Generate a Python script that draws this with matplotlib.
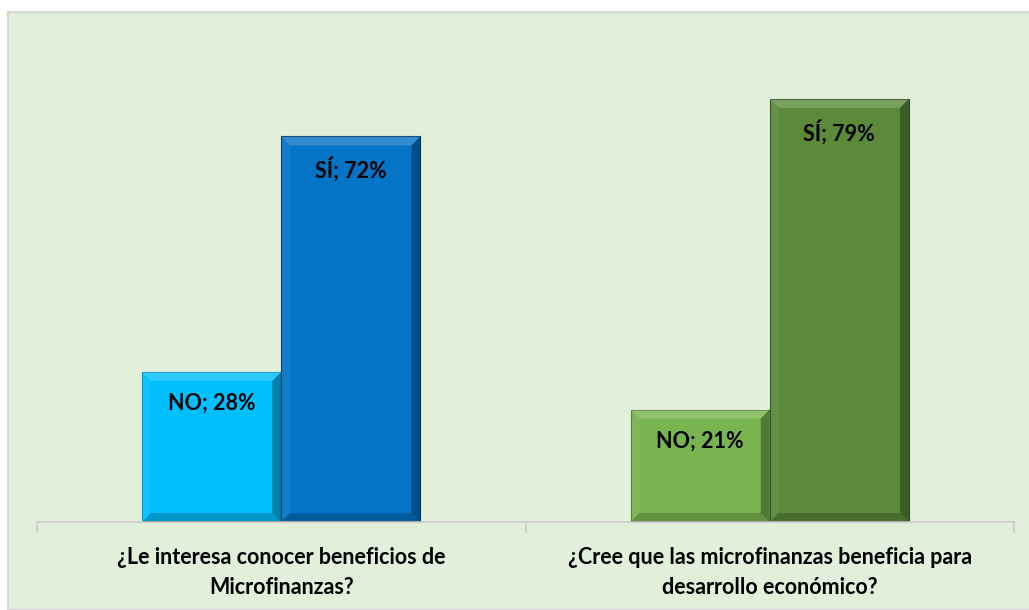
import numpy as np
import matplotlib
matplotlib.use("Agg")
import matplotlib.pyplot as plt
from matplotlib.patches import Rectangle, Polygon

# data
categories = ["¿Le interesa conocer beneficios de\nMicrofinanzas?",
              "¿Cree que las microfinanzas beneficia para\ndesarrollo económico?"]
no_values = [0.28, 0.21]
si_values = [0.72, 0.79]
no_colors = ["#00BFFF", "#78B450"]
si_colors = ["#0474C6", "#5A8A3A"]

plt.rcParams['font.family'] = ['Lato', 'DejaVu Sans']

W, H, DPI = 1029, 610, 100
fig = plt.figure(figsize=(W / DPI, H / DPI), dpi=DPI, facecolor="white")
# chart panel
fig.patches.append(Rectangle((8 / W, 0), 1 - 8 / W + 0.01, (H - 12) / H,
                             transform=fig.transFigure, facecolor="#E2EFDA",
                             edgecolor="#D6D6D6", lw=1.5, zorder=-10))

ax = fig.add_axes([37 / W, (H - 522) / H, (1014 - 37) / W, (522 - 40) / H])
ax.set_facecolor("none")

x = np.arange(len(categories))
bw = 0.285
ax.set_xlim(-0.5, len(categories) - 0.5)
ax.set_ylim(0, 0.9)

bars_no = ax.bar(x - bw / 2, no_values, bw, color=no_colors, lw=0.8,
                 edgecolor=["#0090C0", "#4E7E30"], zorder=2)
bars_si = ax.bar(x + bw / 2, si_values, bw, color=si_colors, lw=0.8,
                 edgecolor=["#023A66", "#2E4A1C"], zorder=2)

# bevel effect: light top/left, dark right/bottom
px_x = (ax.get_xlim()[1] - ax.get_xlim()[0]) / ((1014 - 37))
px_y = (ax.get_ylim()[1] - ax.get_ylim()[0]) / ((522 - 40))
bev = 9
for b in list(bars_no) + list(bars_si):
    x0, y0 = b.get_x(), b.get_y()
    x1, y1 = x0 + b.get_width(), y0 + b.get_height()
    dx, dy = bev * px_x, bev * px_y
    sides = [
        ([(x0, y1), (x1, y1), (x1 - dx, y1 - dy), (x0 + dx, y1 - dy)], "white", 0.18),
        ([(x0, y0), (x0, y1), (x0 + dx, y1 - dy), (x0 + dx, y0 + dy)], "white", 0.06),
        ([(x1, y0), (x1, y1), (x1 - dx, y1 - dy), (x1 - dx, y0 + dy)], "black", 0.32),
        ([(x0, y0), (x1, y0), (x1 - dx, y0 + dy), (x0 + dx, y0 + dy)], "black", 0.2),
    ]
    for pts, c, a in sides:
        ax.add_patch(Polygon(pts, closed=True, facecolor=c, alpha=a, lw=0, zorder=3))

for b, v in zip(bars_no, no_values):
    ax.annotate(f"NO; {v*100:.0f}%", (b.get_x() + b.get_width() / 2, v),
                xytext=(0, -15), textcoords="offset points", ha="center", va="top",
                fontsize=15.5, fontweight="bold", color="black", zorder=4)
for b, v in zip(bars_si, si_values):
    ax.annotate(f"SÍ; {v*100:.0f}%", (b.get_x() + b.get_width() / 2, v),
                xytext=(0, -15), textcoords="offset points", ha="center", va="top",
                fontsize=15.5, fontweight="bold", color="black", zorder=4)

for s in ["top", "right", "left"]:
    ax.spines[s].set_visible(False)
ax.spines["bottom"].set_color("#D0D0D0")
ax.spines["bottom"].set_linewidth(1.5)
ax.set_yticks([])
ax.set_xticks(x)
ax.set_xticklabels(categories, fontsize=15.5, fontweight="bold", linespacing=1.5)
ax.tick_params(axis="x", which="major", length=0, pad=18)
ax.set_xticks(np.arange(len(categories) + 1) - 0.5, minor=True)
ax.tick_params(axis="x", which="minor", length=8, color="#D0D0D0", width=1.5)

fig.savefig("out.png", dpi=DPI, facecolor="white")
